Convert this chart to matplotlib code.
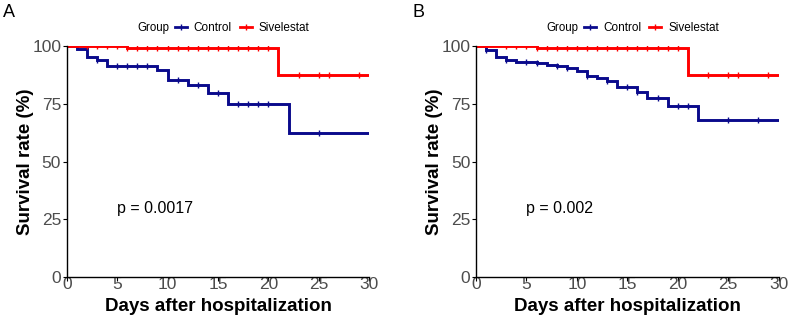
import matplotlib
matplotlib.use("Agg")
import matplotlib.pyplot as plt
from matplotlib.lines import Line2D
import numpy as np

plt.rcParams['font.family'] = ['Liberation Sans', 'DejaVu Sans']

# ---- data (Kaplan-Meier steps, % survival) ----
# panel A
a_ctrl_t = [0, 1, 2, 3, 4, 9, 10, 12, 14, 16, 22, 30]
a_ctrl_s = [100, 98.6, 95.1, 94.0, 91.1, 89.5, 85.4, 83.2, 79.6, 75.0, 62.3, 62.3]
a_ctrl_cens = [3, 5, 6, 7, 8, 11, 13, 15, 17, 18, 19, 20, 25]

a_siv_t = [0, 6, 21, 30]
a_siv_s = [100, 98.9, 87.5, 87.5]
a_siv_cens = [2, 3, 4, 5, 6, 7, 8, 9, 10, 11, 12, 13, 14, 15, 16, 17, 18, 19, 20,
              23, 25, 26, 29]

# panel B
b_ctrl_t = [0, 1, 2, 3, 4, 6, 7, 8, 9, 10, 11, 12, 13, 14, 16, 17, 19, 22, 30]
b_ctrl_s = [100, 98.3, 95.2, 94.0, 93.0, 92.5, 91.8, 91.1, 90.3, 88.9, 86.8, 86.0,
            84.9, 82.0, 80.2, 77.5, 73.9, 68.0, 68.0]
b_ctrl_cens = [1, 3, 5, 6, 8, 9, 11, 13, 15, 16, 18, 20, 21, 25, 28]

b_siv_t = [0, 6, 21, 30]
b_siv_s = [100, 98.8, 87.5, 87.5]
b_siv_cens = [3, 4, 5, 6, 7, 8, 9, 10, 11, 12, 13, 14, 15, 16, 17, 18, 19, 20,
              23, 25, 26, 29]

pvals = ["p = 0.0017", "p = 0.002"]
panel_labels = ["A", "B"]
group_names = ["Control", "Sivelestat"]

CTRL = "#0A0A8C"
SIV = "#FF0000"


def step_value(t, s, x):
    # survival level at time x for a right-continuous step curve
    idx = np.searchsorted(t, x, side="right") - 1
    return np.asarray(s)[idx]


def km_panel(ax, curves):
    for t, s, cens, col in curves:
        ax.step(t, s, where="post", color=col, lw=2.1, solid_joinstyle="miter")
        ax.plot(cens, step_value(t, s, cens), ls="none", marker="|",
                markersize=5, mew=1.0, color=col)
    ax.set_xlim(0, 30)
    ax.set_ylim(0, 100)
    ax.set_xticks(range(0, 31, 5))
    ax.set_yticks([0, 25, 50, 75, 100])
    for sp in ["top", "right"]:
        ax.spines[sp].set_visible(False)
    for sp in ["left", "bottom"]:
        ax.spines[sp].set_linewidth(1.0)
        ax.spines[sp].set_color("black")
    ax.tick_params(axis="both", length=3, width=0.8, color="black",
                   labelsize=12.5, labelcolor="#4D4D4D")
    ax.tick_params(axis="x", pad=-3)
    ax.tick_params(axis="y", pad=1)
    ax.set_xlabel("Days after hospitalization", fontsize=13.5,
                  fontweight="bold", labelpad=4)
    ax.set_ylabel("Survival rate (%)", fontsize=13.5, fontweight="bold",
                  labelpad=-1)


fig = plt.figure(figsize=(7.89, 3.18), dpi=100)
W, H = 789, 318

panels = [
    (66.7, [(a_ctrl_t, a_ctrl_s, a_ctrl_cens, CTRL), (a_siv_t, a_siv_s, a_siv_cens, SIV)]),
    (476.0, [(b_ctrl_t, b_ctrl_s, b_ctrl_cens, CTRL), (b_siv_t, b_siv_s, b_siv_cens, SIV)]),
]

for i, (left_px, curves) in enumerate(panels):
    ax = fig.add_axes([left_px / W, (H - 277.3) / H, 302.5 / W, 231.6 / H])
    km_panel(ax, curves)
    ax.text(5, 29.5, pvals[i], fontsize=11.5, ha="left", va="center")

    # panel letter
    fig.text((left_px - 63.5) / W, 1 - 17 / H, panel_labels[i], fontsize=13,
             ha="left", va="baseline")

    # legend on top: "Group" + two keys
    fig.text((left_px + 70.5) / W, 1 - 28 / H, "Group", fontsize=8.3,
             ha="left", va="center")
    handles = [Line2D([], [], color=CTRL, lw=2, marker="|", markersize=5, mew=1),
               Line2D([], [], color=SIV, lw=2, marker="|", markersize=5, mew=1)]
    fig.legend(handles, group_names, loc="center left",
               bbox_to_anchor=((left_px + 108) / W, 1 - 28 / H),
               ncol=2, frameon=False, fontsize=8.5, handlelength=1.0,
               handletextpad=0.6, columnspacing=0.7, borderpad=0,
               borderaxespad=0, numpoints=1)

fig.savefig("out.png", dpi=100)
